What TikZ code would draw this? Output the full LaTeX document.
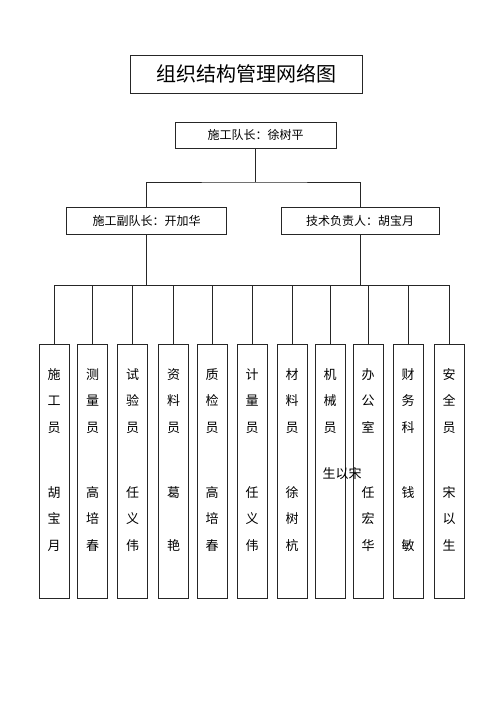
\documentclass[tikz,border=0pt]{standalone}
\usepackage{fontspec}
\newfontfamily\cjk{Noto Sans CJK SC}
\usepackage{tikz}
\usetikzlibrary{positioning}

\begin{document}
\begin{tikzpicture}[x=1pt, y=-1pt,
  line width=0.8pt, draw=black!85,
  titlebox/.style={draw, minimum width=232pt, minimum height=38pt,
                   font=\cjk\fontsize{20}{24}\selectfont},
  headbox/.style={draw, minimum width=160pt, minimum height=27pt,
                  font=\cjk\fontsize{12}{14}\selectfont},
  post/.style={draw, anchor=north, minimum width=30pt, minimum height=254pt},
  postname/.style={anchor=north, inner sep=0pt, align=center,
                   font=\cjk\fontsize{13}{26.5}\selectfont}
]
  \useasboundingbox (0,0) rectangle (500,708);

  \node[titlebox] (title) at (246, 74) {组织结构管理网络图};

  \node[headbox, minimum width=161pt, minimum height=26pt] (dz) at (255.5, 135) {施工队长：徐树平};
  \node[headbox] (fdz) at (146.5, 220.5) {施工副队长：开加华};
  \node[headbox, minimum width=158pt] (js) at (360, 220.5) {技术负责人：胡宝月};

  % posts
  \node[post] (sg)  at (54, 344)    {};
  \node[post] (cl)  at (92.5, 344)  {};
  \node[post] (sy)  at (132.5, 344) {};
  \node[post] (zl)  at (173.5, 344) {};
  \node[post] (zj)  at (212, 344)   {};
  \node[post] (jl)  at (252, 344)   {};
  \node[post] (cly) at (292, 344)   {};
  \node[post] (jx)  at (330, 344)   {};
  \node[post] (bgs) at (368, 344)   {};
  \node[post] (cw)  at (408, 344)   {};
  \node[post] (aq)  at (449, 344)   {};

  \node[postname, below=24pt of sg.north]  {施\\工\\员\\[38.5pt]胡\\宝\\月};
  \node[postname, below=24pt of cl.north]  {测\\量\\员\\[38.5pt]高\\培\\春};
  \node[postname, below=24pt of sy.north]  {试\\验\\员\\[38.5pt]任\\义\\伟};
  \node[postname, below=24pt of zl.north]  {资\\料\\员\\[38.5pt]葛\\[26.5pt]艳};
  \node[postname, below=24pt of zj.north]  {质\\检\\员\\[38.5pt]高\\培\\春};
  \node[postname, below=24pt of jl.north]  {计\\量\\员\\[38.5pt]任\\义\\伟};
  \node[postname, below=24pt of cly.north] {材\\料\\员\\[38.5pt]徐\\树\\杭};
  \node[postname, below=24pt of jx.north]  {机\\械\\员};
  \node[postname, below=24pt of bgs.north] {办\\公\\室\\[38.5pt]任\\宏\\华};
  \node[postname, below=24pt of cw.north]  {财\\务\\科\\[38.5pt]钱\\[26.5pt]敏};
  \node[postname, below=24pt of aq.north]  {安\\全\\员\\[38.5pt]宋\\以\\生};
  \node[inner sep=0pt, font=\cjk\fontsize{13}{15}\selectfont] (stray) at (342, 474) {生以宋};

  % connectors
  \coordinate (bus1) at (255.5, 182);
  \coordinate (bus2) at (255.5, 285);
  \draw (dz.south) -- (bus1);
  \draw (fdz.north) |- (bus1) -| (js.north);
  \draw (fdz.south) -- (fdz.south |- bus2);
  \draw (js.south) -- (js.south |- bus2);
  \draw (sg.north) |- (aq.north |- bus2) -- (aq.north);
  \foreach \p in {cl, sy, zl, zj, jl, cly, jx, bgs, cw}
    \draw (\p.north) -- (\p.north |- bus2);
\end{tikzpicture}
\end{document}
